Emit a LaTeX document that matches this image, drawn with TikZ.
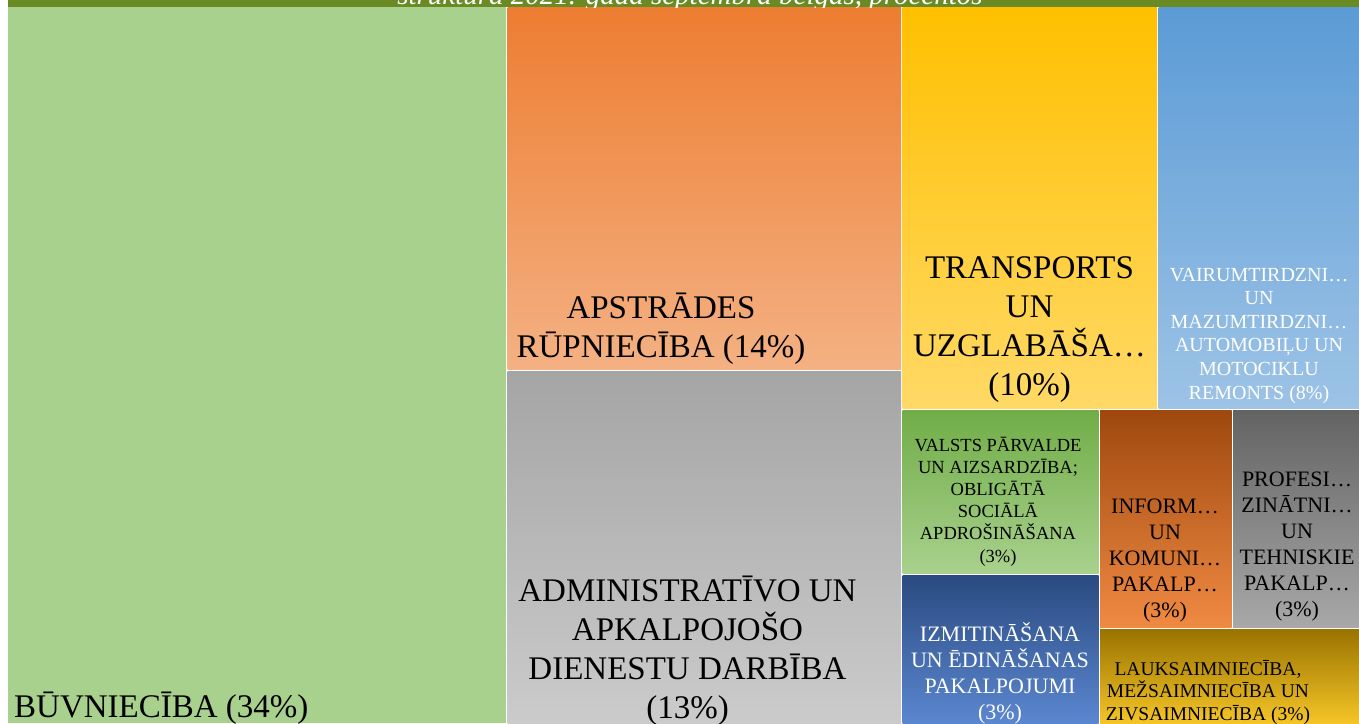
\documentclass[tikz,border=0pt]{standalone}
\usepackage{fontspec}
\setmainfont{Liberation Serif}
\usepackage{tikz}

\definecolor{bannergreen}{HTML}{6A8A24}
\definecolor{buvgreen}{HTML}{A9D18E}
\definecolor{orangetop}{HTML}{ED7D31}
\definecolor{orangebot}{HTML}{F4B183}
\definecolor{graytop}{HTML}{A5A5A5}
\definecolor{graybot}{HTML}{CBCBCB}
\definecolor{yellowtop}{HTML}{FFC000}
\definecolor{yellowbot}{HTML}{FFD966}
\definecolor{bluetop}{HTML}{5B9BD5}
\definecolor{bluebot}{HTML}{9DC3E6}
\definecolor{greentop}{HTML}{70AD47}
\definecolor{greenbot}{HTML}{A9D18E}
\definecolor{navytop}{HTML}{2A4A80}
\definecolor{navybot}{HTML}{5B87D0}
\definecolor{browntop}{HTML}{9E480E}
\definecolor{brownbot}{HTML}{F08A43}
\definecolor{darkgraytop}{HTML}{636363}
\definecolor{darkgraybot}{HTML}{A8A8A8}
\definecolor{goldtop}{HTML}{997300}
\definecolor{goldbot}{HTML}{F5C527}

\begin{document}
\begin{tikzpicture}[x=1pt, y=-1pt,
tile/.style={shading angle=0},
biglabel/.style={inner sep=0pt, align=center, anchor=base, text=black, font=\fontsize{33}{39}\selectfont},
smalllabel/.style={inner sep=0pt, align=center, anchor=base, text=black},
]
\useasboundingbox (0,0) rectangle (1359,723);

%Tiles
\fill[bannergreen] (8,0) rectangle (1359,7);
\fill[buvgreen] (8,7) rectangle (506,723);
\shade[tile, top color=orangetop, bottom color=orangebot] (507.5,7) rectangle (901,369.5);
\shade[tile, top color=graytop, bottom color=graybot] (507.5,371) rectangle (901,723);
\shade[tile, top color=yellowtop, bottom color=yellowbot] (902.5,7) rectangle (1157,408.5);
\shade[tile, top color=bluetop, bottom color=bluebot] (1158.5,7) rectangle (1359,408.5);
\shade[tile, top color=greentop, bottom color=greenbot] (902.5,410) rectangle (1098.5,573.5);
\shade[tile, top color=navytop, bottom color=navybot] (902.5,575) rectangle (1098.5,723);
\shade[tile, top color=browntop, bottom color=brownbot] (1100,410) rectangle (1231.5,627.5);
\shade[tile, top color=darkgraytop, bottom color=darkgraybot] (1233,410) rectangle (1359,627.5);
\shade[tile, top color=goldtop, bottom color=goldbot] (1100,629) rectangle (1359,723);

%Title line, cut off by the top edge
\begin{scope}
\clip (8,0) rectangle (1359,7);
\node[inner sep=0pt, anchor=base, text=white, font=\itshape\fontsize{29}{34}\selectfont] (title) at (690,4) {struktūra 2021. gada septembra beigās, procentos};
\end{scope}

%Nodes (anchored at the baseline of the last line)
\node[biglabel, anchor=base west] (buv) at (14,717) {BŪVNIECĪBA (34\%)};
\node[biglabel] (aps) at (661,357) {APSTRĀDES\\RŪPNIECĪBA (14\%)};
\node[biglabel] (adm) at (687.5,718) {ADMINISTRATĪVO UN\\APKALPOJOŠO\\DIENESTU DARBĪBA\\(13\%)};
\node[biglabel] (trn) at (1029.5,395) {TRANSPORTS\\UN\\UZGLABĀŠA…\\(10\%)};
\node[smalllabel, text=white, font=\fontsize{20}{23.6}\selectfont] (vai) at (1259,399) {VAIRUMTIRDZNI…\\UN\\MAZUMTIRDZNI…\\AUTOMOBIĻU UN\\MOTOCIKLU\\REMONTS (8\%)};
\node[smalllabel, font=\fontsize{18.5}{22.2}\selectfont] (val) at (998,562) {VALSTS PĀRVALDE\\UN AIZSARDZĪBA;\\OBLIGĀTĀ\\SOCIĀLĀ\\APDROŠINĀŠANA\\(3\%)};
\node[smalllabel, text=white, font=\fontsize{22}{26}\selectfont] (izm) at (1000,719) {IZMITINĀŠANA\\UN ĒDINĀŠANAS\\PAKALPOJUMI\\(3\%)};
\node[smalllabel, font=\fontsize{22}{26}\selectfont] (inf) at (1165,617) {INFORM…\\UN\\KOMUNI…\\PAKALP…\\(3\%)};
\node[smalllabel, font=\fontsize{22}{26}\selectfont] (pro) at (1297,616) {PROFESI…\\ZINĀTNI…\\UN\\TEHNISKIE\\PAKALP…\\(3\%)};
\node[smalllabel, font=\fontsize{19.5}{22.5}\selectfont] (lau) at (1208,720) {LAUKSAIMNIECĪBA,\\MEŽSAIMNIECĪBA UN\\ZIVSAIMNIECĪBA (3\%)};
\end{tikzpicture}
\end{document}
